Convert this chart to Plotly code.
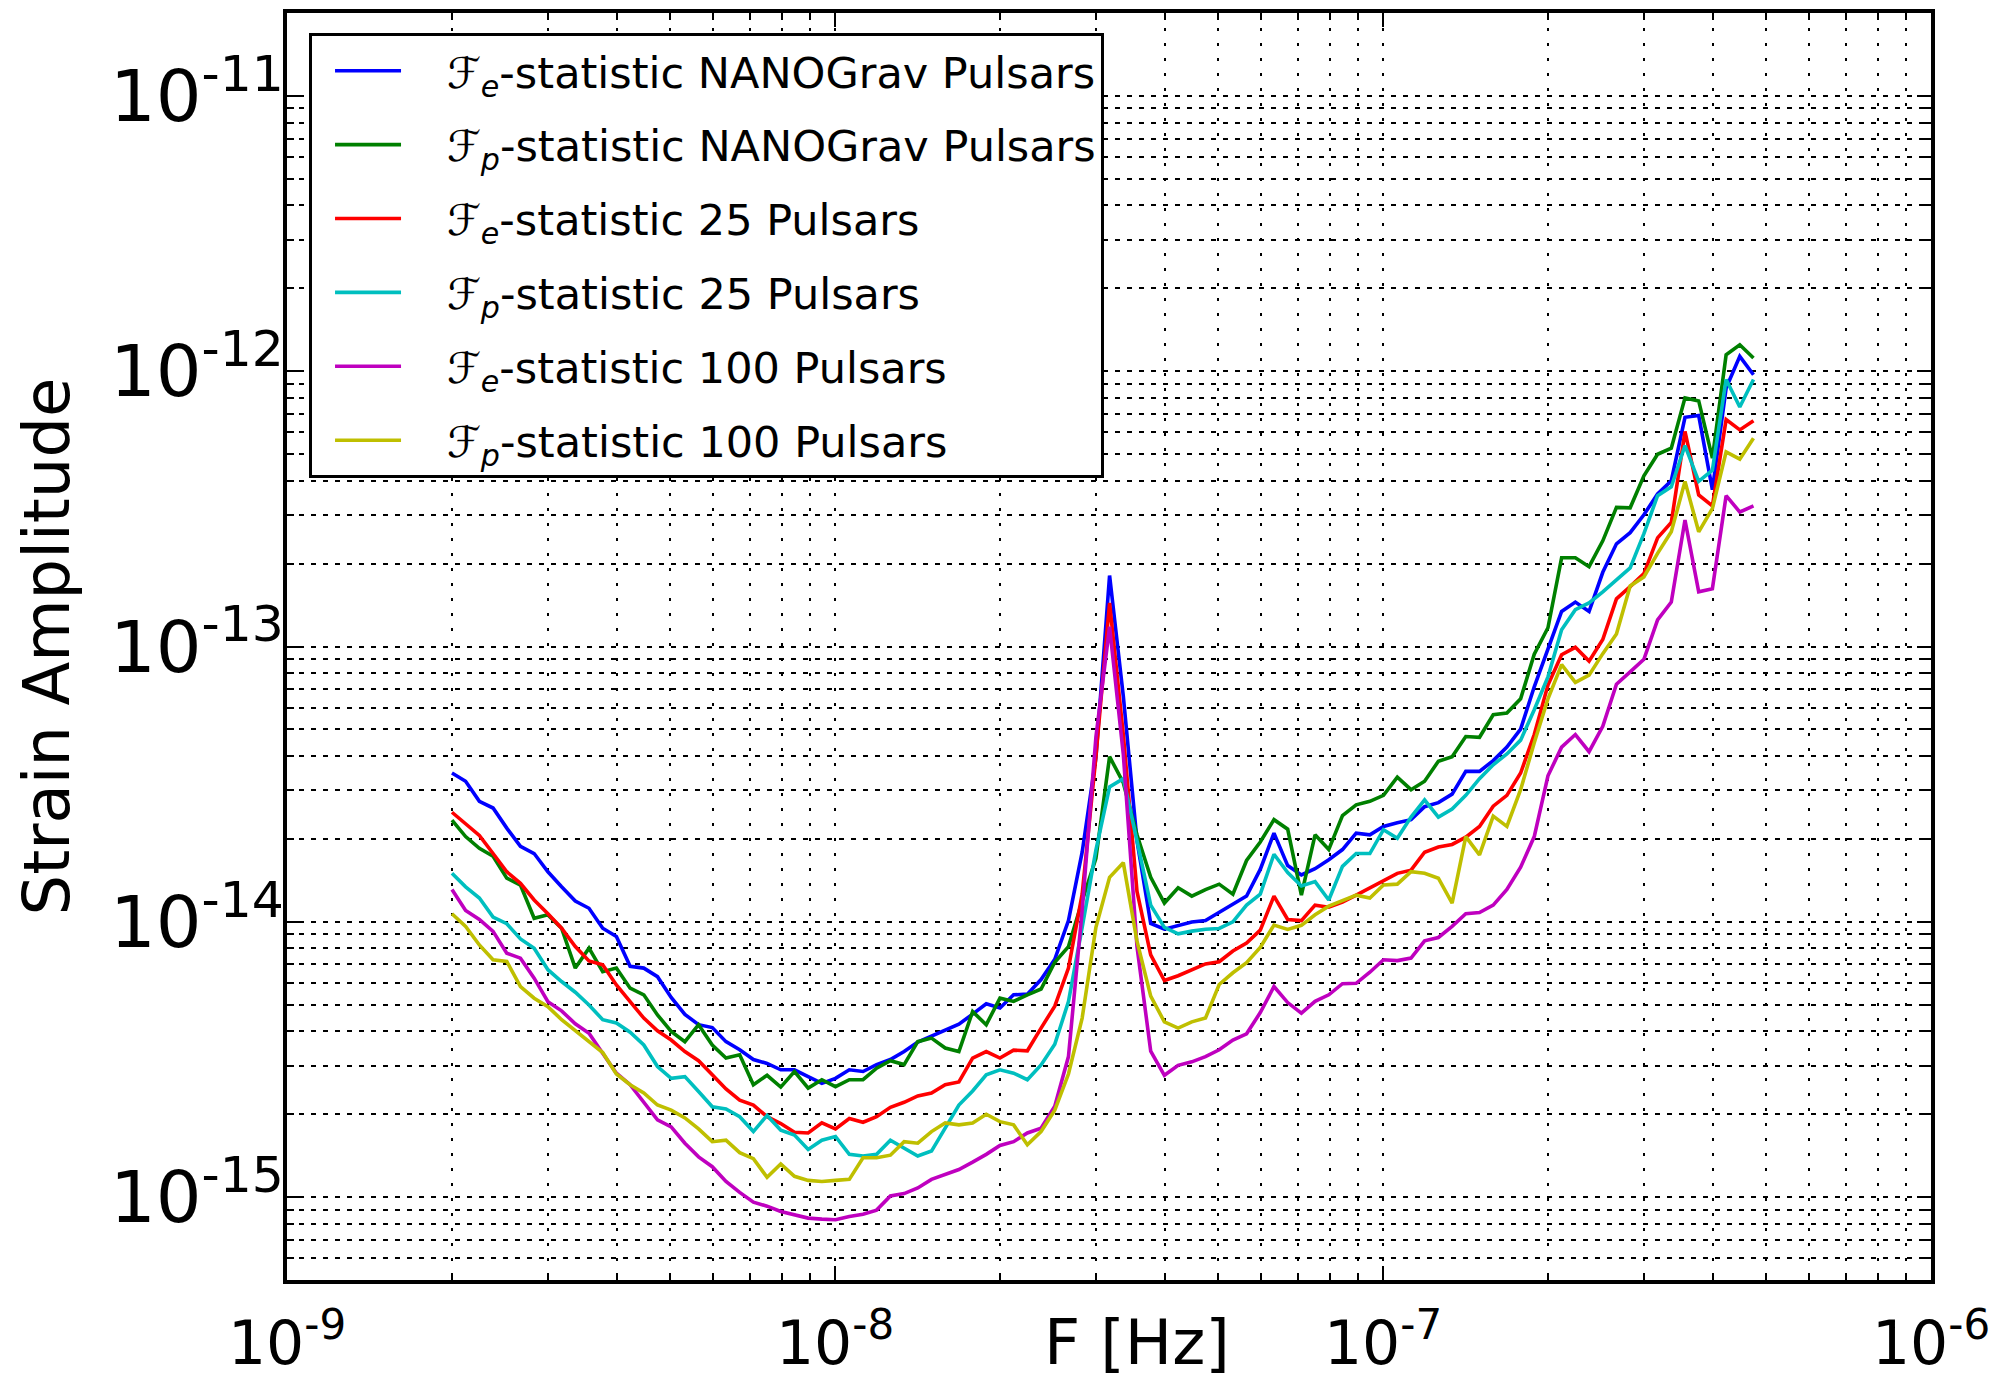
import plotly.graph_objects as go

# Frequency grid (nHz)
freq_nhz = [2.000, 2.118, 2.244, 2.377, 2.518, 2.667, 2.825, 2.993, 3.170, 3.358,
            3.557, 3.768, 3.991, 4.228, 4.478, 4.743, 5.024, 5.322, 5.637, 5.971,
            6.325, 6.700, 7.097, 7.517, 7.962, 8.434, 8.934, 9.463, 10.02, 10.62,
            11.25, 11.91, 12.62, 13.37, 14.16, 15.00, 15.89, 16.83, 17.83, 18.88,
            20.00, 21.18, 22.44, 23.77, 25.18, 26.67, 28.25, 29.93, 31.70, 33.58,
            35.57, 37.68, 39.91, 42.28, 44.78, 47.43, 50.24, 53.22, 56.37, 59.71,
            63.25, 67.00, 70.97, 75.17, 79.62, 84.34, 89.34, 94.63, 100.2, 106.2,
            112.5, 119.1, 126.2, 133.7, 141.6, 150.0, 158.9, 168.3, 178.3, 188.8,
            200.0, 211.8, 224.4, 237.7, 251.8, 266.7, 282.5, 299.3, 317.0, 335.8,
            355.7, 376.8, 399.1, 422.8, 447.8, 474.3]

# Strain amplitudes in units of 1e-15
h_fe_nanograv = [34.7, 32.4, 27.4, 25.9, 21.9, 18.8, 17.7, 15.2, 13.4, 11.9,
                 11.2, 9.48, 8.85, 6.89, 6.79, 6.32, 5.31, 4.61, 4.23, 4.13,
                 3.67, 3.43, 3.16, 3.06, 2.90, 2.90, 2.74, 2.59, 2.70, 2.90,
                 2.86, 3.03, 3.16, 3.38, 3.66, 3.85, 4.02, 4.25, 4.62, 5.04,
                 4.86, 5.43, 5.46, 6.17, 7.31, 10.1, 17.9, 39.4, 181, 66.1,
                 19.7, 9.86, 9.40, 9.66, 9.98, 10.1, 10.8, 11.6, 12.4, 15.5,
                 21.0, 16.0, 14.8, 15.6, 16.8, 18.3, 21.0, 20.7, 22.2, 22.9,
                 23.5, 26.2, 27.1, 29.1, 35.2, 35.2, 38.5, 43.1, 50.1, 71.4,
                 98.8, 134, 145, 134, 186, 236, 259, 301, 358, 400,
                 680, 690, 371, 869, 1132, 971]

h_fp_nanograv = [23.4, 20.4, 18.5, 17.3, 14.4, 13.6, 10.3, 10.6, 9.48, 6.79,
                 8.02, 6.59, 6.79, 5.74, 5.43, 4.59, 4.00, 3.67, 4.23, 3.57,
                 3.20, 3.29, 2.56, 2.77, 2.51, 2.86, 2.49, 2.67, 2.52, 2.67,
                 2.67, 2.94, 3.13, 3.03, 3.67, 3.78, 3.48, 3.38, 4.72, 4.23,
                 5.28, 5.14, 5.43, 5.70, 7.13, 8.13, 11.9, 17.0, 39.8, 32.0,
                 20.7, 14.5, 11.7, 13.3, 12.4, 13.1, 13.7, 12.6, 16.7, 19.5,
                 23.5, 21.7, 12.5, 20.7, 18.3, 24.3, 26.6, 27.4, 28.8, 33.5,
                 30.2, 32.4, 38.3, 39.8, 47.1, 46.8, 56.5, 57.3, 64.6, 93.8,
                 117, 210, 210, 195, 242, 320, 319, 417, 499, 525,
                 800, 780, 483, 1148, 1247, 1117]

h_fe_25 = [25.0, 22.8, 20.6, 17.7, 15.2, 13.8, 12.0, 10.7, 9.48, 8.13,
           7.21, 6.98, 5.90, 5.13, 4.47, 4.02, 3.72, 3.38, 3.13, 2.78,
           2.47, 2.25, 2.16, 1.96, 1.85, 1.72, 1.71, 1.86, 1.77, 1.93,
           1.87, 1.96, 2.12, 2.21, 2.33, 2.39, 2.56, 2.62, 3.20, 3.38,
           3.20, 3.42, 3.40, 4.11, 4.94, 6.79, 12.6, 39.8, 144, 47.9,
           12.9, 7.59, 6.12, 6.37, 6.71, 7.03, 7.16, 7.83, 8.38, 9.33,
           12.4, 10.2, 10.1, 11.5, 11.3, 11.8, 12.5, 13.3, 14.2, 15.0,
           15.4, 17.9, 18.7, 19.1, 20.3, 22.2, 26.3, 28.8, 34.7, 47.9,
           72.4, 93.3, 99.3, 88.5, 106, 149, 165, 184, 248, 282,
           604, 355, 324, 667, 612, 661]

h_fp_25 = [15.0, 13.4, 12.2, 10.4, 9.84, 8.67, 8.02, 6.70, 6.07, 5.55,
           4.99, 4.41, 4.29, 3.97, 3.57, 2.98, 2.70, 2.74, 2.42, 2.13,
           2.09, 1.96, 1.73, 1.98, 1.75, 1.68, 1.49, 1.61, 1.66, 1.43,
           1.41, 1.43, 1.61, 1.50, 1.41, 1.47, 1.79, 2.16, 2.43, 2.78,
           2.90, 2.82, 2.67, 3.02, 3.59, 5.13, 9.55, 18.2, 30.9, 33.1,
           19.7, 11.5, 9.55, 9.04, 9.25, 9.40, 9.46, 10.0, 11.5, 12.6,
           17.6, 15.1, 13.5, 14.0, 12.0, 15.9, 17.7, 17.7, 21.6, 20.1,
           24.0, 27.7, 24.0, 25.7, 28.8, 33.1, 37.2, 40.7, 45.7, 58.9,
           77.6, 115, 136, 144, 158, 174, 193, 257, 353, 380,
           537, 398, 437, 933, 741, 933]

h_fe_100 = [13.1, 11.0, 10.2, 9.23, 7.69, 7.38, 6.24, 5.13, 4.75, 4.26,
            3.94, 3.33, 2.82, 2.56, 2.22, 1.91, 1.80, 1.57, 1.40, 1.29,
            1.14, 1.04, 0.959, 0.927, 0.887, 0.863, 0.839, 0.832, 0.828, 0.851,
            0.867, 0.897, 1.01, 1.03, 1.08, 1.16, 1.21, 1.26, 1.34, 1.43,
            1.54, 1.59, 1.71, 1.78, 2.14, 3.24, 11.0, 46.8, 118, 40.7,
            8.13, 3.39, 2.77, 3.01, 3.10, 3.24, 3.43, 3.72, 3.92, 4.68,
            5.82, 5.09, 4.66, 5.14, 5.43, 5.96, 5.98, 6.56, 7.28, 7.23,
            7.38, 8.53, 8.77, 9.62, 10.7, 10.8, 11.5, 13.1, 15.8, 20.4,
            33.9, 43.1, 47.9, 41.5, 51.3, 72.9, 80.9, 89.9, 125, 145,
            288, 158, 162, 353, 308, 324]

h_fp_100 = [10.7, 9.62, 8.24, 7.28, 7.18, 5.82, 5.28, 4.92, 4.41, 4.03,
            3.70, 3.35, 2.80, 2.56, 2.39, 2.16, 2.07, 1.94, 1.77, 1.59,
            1.61, 1.45, 1.38, 1.18, 1.32, 1.19, 1.15, 1.14, 1.15, 1.16,
            1.39, 1.39, 1.42, 1.59, 1.57, 1.73, 1.86, 1.83, 1.86, 2.00,
            1.88, 1.83, 1.55, 1.73, 2.07, 2.80, 4.47, 9.55, 14.5, 16.4,
            8.51, 5.37, 4.33, 4.11, 4.33, 4.47, 5.92, 6.53, 7.10, 8.07,
            9.73, 9.38, 9.71, 10.6, 11.4, 11.9, 12.5, 12.2, 13.6, 13.7,
            15.2, 15.0, 14.4, 11.7, 20.4, 17.5, 24.2, 22.2, 30.2, 44.7,
            64.6, 85.9, 74.1, 78.7, 94.2, 111, 166, 179, 218, 261,
            398, 261, 317, 509, 479, 571]

GAP = "\u00a0\u00a0\u00a0"
series_names = [
    GAP + "ℱ<sub><i>e</i></sub>-statistic NANOGrav Pulsars",
    GAP + "ℱ<sub><i>p</i></sub>-statistic NANOGrav Pulsars",
    GAP + "ℱ<sub><i>e</i></sub>-statistic 25 Pulsars",
    GAP + "ℱ<sub><i>p</i></sub>-statistic 25 Pulsars",
    GAP + "ℱ<sub><i>e</i></sub>-statistic 100 Pulsars",
    GAP + "ℱ<sub><i>p</i></sub>-statistic 100 Pulsars",
]
series_values = [h_fe_nanograv, h_fp_nanograv, h_fe_25, h_fp_25, h_fe_100, h_fp_100]
series_colors = ["#0000ff", "#008000", "#ff0000", "#00bfbf", "#bf00bf", "#bfbf00"]

x_major = [1e-9, 1e-8, 1e-7, 1e-6]
x_ticktext = ["10<sup>-9</sup>", "10<sup>-8</sup>", "10<sup>-7</sup>", "10<sup>-6</sup>"]
y_major = [1e-15, 1e-14, 1e-13, 1e-12, 1e-11]
y_ticktext = ["10<sup>-15</sup>", "10<sup>-14</sup>", "10<sup>-13</sup>", "10<sup>-12</sup>", "10<sup>-11</sup>"]

x_minor = [m * 10.0 ** e for e in range(-9, -6) for m in range(2, 10)]
y_minor = [m * 10.0 ** e for e in range(-16, -10) for m in range(2, 10)]

freq_hz = [f * 1e-9 for f in freq_nhz]

fig = go.Figure()
for k, (name, vals, color) in enumerate(zip(series_names, series_values, series_colors)):
    fig.add_trace(go.Scatter(
        x=freq_hz, y=[v * 1e-15 for v in vals], mode="lines", name=name,
        line=dict(color=color, width=3.6), legendgroup="g%d" % k,
    ))

axis_common = dict(
    type="log", showline=True, linecolor="black", linewidth=3.5, mirror="allticks",
    ticks="inside", ticklen=14, tickwidth=2, tickcolor="black",
    showgrid=True, gridcolor="black", gridwidth=1.7, zeroline=False,
    automargin=False,
)

fig.update_layout(
    width=1991, height=1380,
    margin=dict(l=287, r=60, t=13, b=100),
    paper_bgcolor="white", plot_bgcolor="white",
    font=dict(family="DejaVu Sans", color="black"),
    xaxis=dict(
        range=[-9, -6], tickmode="array", tickvals=x_major, ticktext=x_ticktext,
        tickfont=dict(size=60, family="DejaVu Sans", color="black"),
        griddash="3px,12px", ticklabelstandoff=8,
        minor=dict(tickmode="array", tickvals=x_minor, ticks="inside", ticklen=7,
                   tickwidth=1.5, tickcolor="black", showgrid=True, gridcolor="black",
                   gridwidth=1.7, griddash="3px,12px"),
        **axis_common,
    ),
    yaxis=dict(
        range=[-15.30103, -10.69897], tickmode="array", tickvals=y_major, ticktext=y_ticktext,
        tickfont=dict(size=72, family="DejaVu Sans", color="black"),
        griddash="5px,7px", ticklabelstandoff=-15,
        minor=dict(tickmode="array", tickvals=y_minor, ticks="inside", ticklen=7,
                   tickwidth=1.5, tickcolor="black", showgrid=True, gridcolor="black",
                   gridwidth=1.7, griddash="5px,7px"),
        **axis_common,
    ),
    legend=dict(
        x=0.0134, y=0.984, xanchor="left", yanchor="top",
        bgcolor="white", bordercolor="black", borderwidth=3,
        font=dict(family="DejaVu Sans", size=43, color="black"),
        itemwidth=66, tracegroupgap=15, indentation=18,
    ),
    showlegend=True,
    annotations=[
        dict(text="F [Hz]", x=0.517, y=-0.049, xref="paper", yref="paper",
             xanchor="center", yanchor="middle", showarrow=False,
             font=dict(family="DejaVu Sans", size=63, color="black")),
        dict(text="Strain Amplitude", x=-0.146, y=0.5, xref="paper", yref="paper",
             xanchor="center", yanchor="middle", textangle=-90, showarrow=False,
             font=dict(family="DejaVu Sans", size=64, color="black")),
    ],
)

fig.write_html("out.html")
